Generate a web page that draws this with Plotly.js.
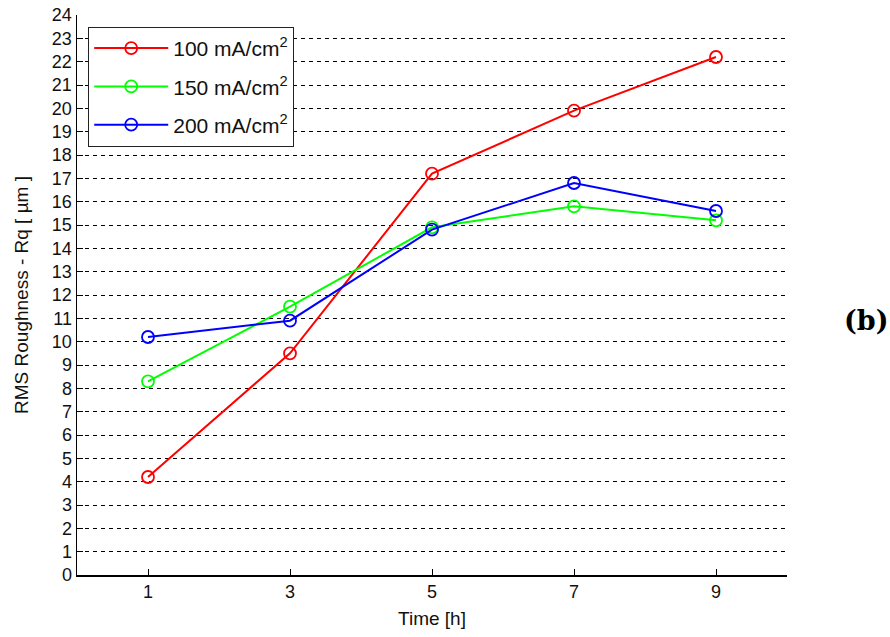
<!DOCTYPE html>
<html><head><meta charset="utf-8">
<script src="https://cdn.plot.ly/plotly-3.0.1.min.js"></script>
<style>html,body{margin:0;padding:0;background:#fff;}#chart{width:890px;height:637px;}</style>
</head><body><div id="chart"></div>
<script>
const timeH = [1, 3, 5, 7, 9];
const rq100 = [4.2, 9.5, 17.2, 19.9, 22.2];
const rq150 = [8.3, 11.5, 14.9, 15.8, 15.2];
const rq200 = [10.2, 10.9, 14.8, 16.8, 15.6];
const seriesNames = ['100 mA/cm<sup>2</sup>', '150 mA/cm<sup>2</sup>', '200 mA/cm<sup>2</sup>'];
const seriesColors = ['#ff0000', '#00ff00', '#0000ff'];
const xTicks = [1, 3, 5, 7, 9];
const yTicks = [];
for (let i = 0; i <= 24; i++) yTicks.push(i);

const values = [rq100, rq150, rq200];
const traces = values.map((v, i) => ({
  x: timeH, y: v, name: seriesNames[i], type: 'scatter', mode: 'lines+markers',
  legendgroup: 'g' + i,
  line: {color: seriesColors[i], width: 2},
  marker: {symbol: 'circle-open', size: 12, color: seriesColors[i], line: {width: 1.8, color: seriesColors[i]}}
}));

const fam = 'Liberation Sans, Arial, sans-serif';
const tickFont = {family: fam, size: 18, color: '#111'};
const titleFont = {family: fam, size: 19, color: '#111'};
const layout = {
  width: 890, height: 637,
  margin: {l: 77, r: 103, t: 15, b: 62},
  paper_bgcolor: '#fff', plot_bgcolor: '#fff',
  font: tickFont,
  showlegend: true,
  legend: {x: 0.0155, y: 0.979, xanchor: 'left', yanchor: 'top', bordercolor: '#222', borderwidth: 1.2,
    bgcolor: '#fff', font: {family: fam, size: 21, color: '#111'}, itemwidth: 74,
    traceorder: 'grouped', tracegroupgap: 8},
  xaxis: {range: [0, 10], tickvals: xTicks, ticks: 'inside', ticklen: 6, tickcolor: '#000',
    showgrid: false, zeroline: false, showline: true, linecolor: '#000', linewidth: 1.5,
    tickfont: tickFont, title: {text: 'Time [h]', font: titleFont, standoff: 10}},
  yaxis: {range: [0, 24], tickvals: yTicks, ticks: 'inside', ticklen: 6, tickcolor: '#000',
    showgrid: true, gridcolor: '#000', gridwidth: 1, griddash: '4px,4px', zeroline: false,
    showline: true, linecolor: '#000', linewidth: 1.5, tickfont: tickFont,
    title: {text: 'RMS Roughness - Rq [ µm ]', font: titleFont, standoff: 18}},
  annotations: [{text: '<b>(b)</b>', xref: 'paper', yref: 'paper', x: 1.145, y: 0.455, showarrow: false,
    font: {family: 'DejaVu Serif, Liberation Serif, serif', size: 27, color: '#000'}}]
};
Plotly.newPlot('chart', traces, layout, {displayModeBar: false, staticPlot: true});
</script></body></html>
